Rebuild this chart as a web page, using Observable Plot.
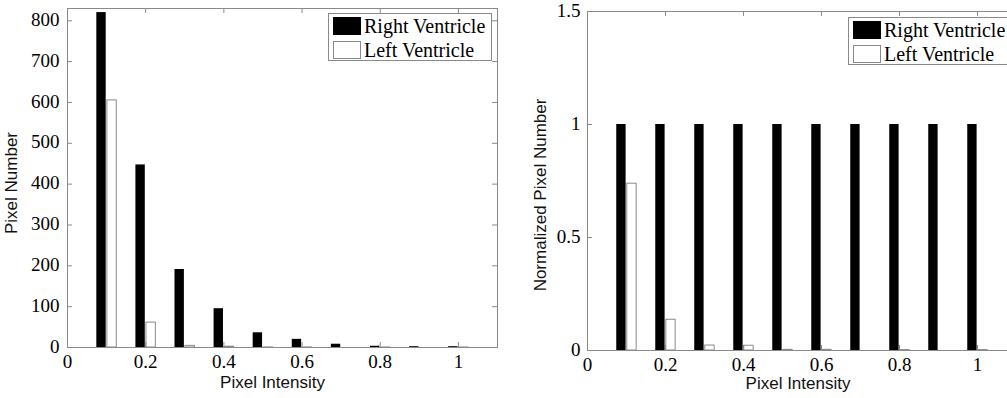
<!DOCTYPE html>
<html>
<head>
<meta charset="utf-8">
<script src="https://cdn.jsdelivr.net/npm/d3@7"></script>
<script src="https://cdn.jsdelivr.net/npm/@observablehq/plot@0.6"></script>
<style>
  html, body { margin: 0; padding: 0; background: #fff; overflow: hidden; width: 1007px; height: 398px; }
  #wrap { position: relative; width: 1007px; height: 398px; overflow: hidden; }
  .chart { position: absolute; top: 0; }
  .legend { position: absolute; width: 164px; height: 48px; border: 1px solid #8a8a8a; background: #fff; box-sizing: border-box; }
  .sw { position: absolute; left: 4px; width: 28px; height: 18px; box-sizing: border-box; }
  .lt { position: absolute; left: 35px; font-family: "Liberation Serif", "Times New Roman", serif; font-size: 20px; line-height: 20px; color: #000; white-space: nowrap; }
</style>
</head>
<body>
<div id="wrap"></div>
<script>
// ---- data ----
const bins = [0.1, 0.2, 0.3, 0.4, 0.5, 0.6, 0.7, 0.8, 0.9, 1.0];
const rvCounts = [820, 447, 191, 95, 36, 20, 8, 3, 2, 2];
const lvCounts = [605, 61, 4, 2, 0.2, 0.1, 0, 0.1, 0, 0.05];
const rvNorm = [1, 1, 1, 1, 1, 1, 1, 1, 1, 1];
const lvNorm = [0.738, 0.136, 0.022, 0.021, 0.003, 0.003, 0, 0.002, 0, 0.002];
const xTicks = [0, 0.2, 0.4, 0.6, 0.8, 1];
const yTicksLeft = [0, 100, 200, 300, 400, 500, 600, 700, 800];
const yTicksRight = [0, 0.5, 1, 1.5];
const seriesNames = ["Right Ventricle", "Left Ventricle"];
const xLabelText = "Pixel Intensity";
const yLabelLeft = "Pixel Number";
const yLabelRight = "Normalized Pixel Number";

const GRAY = "#8a8a8a";
const SERIF = "Liberation Serif";
const SANS = "Liberation Sans";

function makeChart(o) {
  const rows = [];
  bins.forEach((c, i) => {
    rows.push({c, s: 0, v: o.rv[i]});
    rows.push({c, s: 1, v: o.lv[i]});
  });
  const W = o.width - o.marginLeft - o.marginRight;
  const H = o.height - o.marginTop - o.marginBottom;
  const svg = Plot.plot({
    width: o.width,
    height: o.height,
    marginLeft: o.marginLeft,
    marginRight: o.marginRight,
    marginTop: o.marginTop,
    marginBottom: o.marginBottom,
    style: {fontSize: "19px", color: "#000", background: "transparent", overflow: "visible"},
    x: {domain: [0, 1.1], axis: null},
    y: {domain: o.yDomain, axis: null},
    marks: [
      Plot.rect(rows.filter(d => d.s === 0), {
        x1: d => d.c - 0.025, x2: d => d.c - 0.001, y1: d => 0, y2: "v",
        fill: "#000"
      }),
      Plot.rect(rows.filter(d => d.s === 1), {
        x1: d => d.c + 0.002, x2: d => d.c + 0.026, y1: d => 0, y2: "v",
        fill: "#fff", stroke: GRAY, strokeWidth: 1
      }),
      Plot.frame({stroke: GRAY}),
      Plot.ruleX(xTicks, {x: d => d, insetTop: H - 5, stroke: GRAY}),
      Plot.ruleX(xTicks, {x: d => d, insetBottom: H - 5, stroke: GRAY}),
      Plot.ruleY(o.yTicks, {y: d => d, insetRight: W - 5, stroke: GRAY}),
      Plot.ruleY(o.yTicks, {y: d => d, insetLeft: W - 5, stroke: GRAY}),
      Plot.text(xTicks, {
        x: d => d, text: d => String(d), frameAnchor: "bottom", lineAnchor: "top", textAnchor: "middle",
        dy: 7, fontFamily: SERIF, fontSize: 19, fill: "#000"
      }),
      Plot.text(o.yTicks, {
        y: d => d, text: d => String(d), frameAnchor: "left", lineAnchor: "middle", textAnchor: "end",
        dx: -o.yPad, dy: -1, fontFamily: SERIF, fontSize: 19, fill: "#000"
      }),
      Plot.text([xLabelText], {
        text: d => d, frameAnchor: "bottom", lineAnchor: "bottom", textAnchor: "middle",
        dy: o.xLabelDy, dx: o.xLabelDx, fontFamily: SANS, fontSize: 17, fill: "#111"
      }),
      Plot.text([o.yLabel], {
        text: d => d, frameAnchor: "left", rotate: -90, textAnchor: "middle",
        dx: o.yLabelDx, dy: o.yLabelDy, fontFamily: SANS, fontSize: 17, fill: "#111"
      })
    ]
  });
  // force the font families chosen on each text mark
  svg.querySelectorAll("text").forEach(t => {
    const host = t.closest("[font-family]");
    if (host) {
      const f = host.getAttribute("font-family");
      t.style.fontFamily = f === SERIF ? '"Liberation Serif", "Times New Roman", serif'
                                       : '"Liberation Sans", Arial, sans-serif';
    }
  });
  return svg;
}

const wrap = document.getElementById("wrap");

const left = makeChart({
  width: 500, height: 398, marginLeft: 67, marginRight: 3, marginTop: 8, marginBottom: 51,
  yDomain: [0, 830], yTicks: yTicksLeft, rv: rvCounts, lv: lvCounts,
  yLabel: yLabelLeft, xLabelDx: -10, xLabelDy: 40, yLabelDx: -56, yLabelDy: 5, yPad: 8
});
left.classList.add("chart");
left.style.left = "0px";
wrap.appendChild(left);

const right = makeChart({
  width: 520, height: 398, marginLeft: 87, marginRight: 4, marginTop: 11, marginBottom: 48,
  yDomain: [0, 1.5], yTicks: yTicksRight, rv: rvNorm, lv: lvNorm,
  yLabel: yLabelRight, xLabelDx: -4, xLabelDy: 38, yLabelDx: -47, yLabelDy: 14, yPad: 7
});
right.classList.add("chart");
right.style.left = "500px";
wrap.appendChild(right);

function addLegend(x, y) {
  const box = document.createElement("div");
  box.className = "legend";
  box.style.left = x + "px";
  box.style.top = y + "px";
  const fills = ["#000", "#fff"];
  seriesNames.forEach((name, i) => {
    const sw = document.createElement("div");
    sw.className = "sw";
    sw.style.top = (3 + i * 23.5) + "px";
    sw.style.background = fills[i];
    sw.style.border = i === 0 ? "1px solid #000" : "1px solid " + GRAY;
    box.appendChild(sw);
    const t = document.createElement("div");
    t.className = "lt";
    t.style.top = (2 + i * 23.5) + "px";
    t.textContent = name;
    box.appendChild(t);
  });
  wrap.appendChild(box);
}
addLegend(328, 13);
addLegend(848, 17);
</script>
</body>
</html>
